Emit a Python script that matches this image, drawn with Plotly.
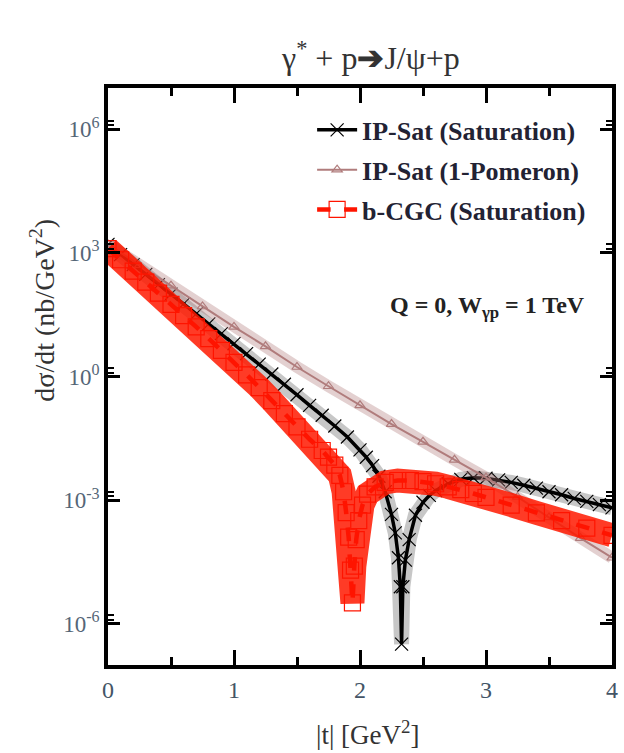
import plotly.graph_objects as go

# |t| [GeV^2] and dsigma/dt [nb/GeV^2]
t_sat = [0, 0.1, 0.2, 0.3, 0.4, 0.5, 0.6, 0.7, 0.8, 0.9, 1.0, 1.1, 1.2, 1.3, 1.4,
         1.5, 1.6, 1.7, 1.8, 1.9, 2.0, 2.05, 2.1, 2.15, 2.2, 2.25, 2.28, 2.305,
         2.32, 2.33, 2.34, 2.36, 2.39, 2.44, 2.5, 2.55, 2.6, 2.7, 2.8, 2.9, 3.0,
         3.1, 3.2, 3.3, 3.4, 3.5, 3.6, 3.7, 3.8, 3.9, 4.0]
ipsat_sat = [1.6e3, 9.1e2, 5.2e2, 3.0e2, 1.7e2, 1.0e2, 58, 33, 19, 11, 6.3, 3.6,
             2.0, 1.15, 0.65, 0.36, 0.20, 0.115, 0.063, 0.034, 0.0166, 0.011,
             6.9e-3, 3.8e-3, 1.6e-3, 4.5e-4, 1.6e-4, 4.0e-5, 7.9e-6, 3.2e-7,
             7.9e-6, 3.5e-5, 1.1e-4, 4.3e-4, 8.9e-4, 1.3e-3, 1.7e-3, 2.5e-3,
             3.2e-3, 3.5e-3, 3.4e-3, 3.1e-3, 2.7e-3, 2.3e-3, 1.95e-3, 1.6e-3,
             1.35e-3, 1.1e-3, 9.3e-4, 7.8e-4, 6.5e-4]

t_pom = [0, 0.25, 0.5, 0.75, 1.0, 1.25, 1.5, 1.75, 2.0, 2.25, 2.5, 2.75, 3.0,
         3.25, 3.5, 3.75, 4.0]
ipsat_pom = [1.6e3, 5.0e2, 1.6e2, 50, 16, 5.4, 1.7, 0.58, 0.2, 0.07, 0.026,
             9.5e-3, 3.5e-3, 1.2e-3, 3.8e-4, 1.2e-4, 4.0e-5]

t_cgc = [0, 0.1, 0.2, 0.3, 0.4, 0.5, 0.6, 0.7, 0.8, 0.9, 1.0, 1.1, 1.2, 1.3, 1.4,
         1.5, 1.6, 1.7, 1.75, 1.8, 1.84, 1.87, 1.89, 1.91, 1.925, 1.94, 1.955,
         1.97, 1.99, 2.02, 2.06, 2.12, 2.2, 2.3, 2.4, 2.5, 2.6, 2.7, 2.8, 2.9,
         3.0, 3.2, 3.4, 3.6, 3.8, 4.0]
bcgc_sat = [1.26e3, 6.8e2, 3.6e2, 1.95e2, 1.05e2, 56, 30, 16, 8.3, 4.3, 2.2, 1.1,
            0.54, 0.26, 0.126, 0.060, 0.030, 0.016, 0.011, 7.1e-3, 4.0e-3,
            1.6e-3, 5.0e-4, 1.26e-4, 2.0e-5, 3.2e-6, 2.5e-5, 1.1e-4, 3.2e-4,
            7.6e-4, 1.4e-3, 2.1e-3, 2.7e-3, 3.0e-3, 3.0e-3, 2.8e-3, 2.5e-3,
            2.1e-3, 1.8e-3, 1.45e-3, 1.17e-3, 7.6e-4, 4.9e-4, 3.2e-4, 2.1e-4,
            1.4e-4]

y_tickvals = [1e-6, 1e-3, 1, 1e3, 1e6]
y_ticktext = ["10<sup>-6</sup>", "10<sup>-3</sup>", "10<sup>0</sup>",
              "10<sup>3</sup>", "10<sup>6</sup>"]
y_minor = [1.25e-6, 1.6e-6, 1.25e-3, 1.6e-3, 1.25, 1.6, 1.25e3, 1.6e3, 1.25e6, 1.6e6]
x_tickvals = [0, 1, 2, 3, 4]
x_minor = [0.5, 1.5, 2.5, 3.5]

SERIF = "Liberation Serif"

fig = go.Figure()

# IP-Sat (Saturation)
fig.add_trace(go.Scatter(x=t_sat, y=ipsat_sat, mode="lines", showlegend=False,
                         line=dict(color="rgba(0,0,0,0.22)", width=15), hoverinfo="skip"))
fig.add_trace(go.Scatter(x=t_sat, y=ipsat_sat, mode="lines+markers",
                         name="<b>IP-Sat (Saturation)</b>", legendgroup="a",
                         line=dict(color="black", width=3.5),
                         marker=dict(symbol="x-thin-open", size=13,
                                     line=dict(color="rgba(0,0,0,0.6)", width=1.2))))
# IP-Sat (1-Pomeron)
fig.add_trace(go.Scatter(x=t_pom, y=ipsat_pom, mode="lines", showlegend=False,
                         line=dict(color="rgba(176,120,120,0.35)", width=12), hoverinfo="skip"))
fig.add_trace(go.Scatter(x=t_pom, y=ipsat_pom, mode="lines+markers",
                         name="<b>IP-Sat (1-Pomeron)</b>", legendgroup="b",
                         line=dict(color="#b07c7c", width=2),
                         marker=dict(symbol="triangle-up-open", size=9,
                                     line=dict(color="#c09090", width=1.2))))
# b-CGC (Saturation)
fig.add_trace(go.Scatter(x=t_cgc, y=bcgc_sat, mode="lines", showlegend=False,
                         line=dict(color="rgba(255,25,0,0.85)", width=24), hoverinfo="skip"))
fig.add_trace(go.Scatter(x=t_cgc, y=bcgc_sat, mode="lines+markers",
                         name="<b>b-CGC (Saturation)</b>", legendgroup="c",
                         line=dict(color="#ff1400", width=4.5, dash="dash"),
                         marker=dict(symbol="square-open", size=16,
                                     line=dict(color="#ff3020", width=1.2))))

fig.update_layout(
    width=624, height=753,
    margin=dict(l=108, r=6, t=88, b=88),
    paper_bgcolor="white", plot_bgcolor="white",
    font=dict(family=SERIF, color="#333344", size=22),
    showlegend=True,
    legend=dict(x=0.405, y=0.968, xanchor="left", yanchor="top",
                bgcolor="rgba(0,0,0,0)", tracegroupgap=3,
                font=dict(family=SERIF, size=26, color="#222233"),
                itemwidth=40),
    xaxis=dict(range=[0, 4], tickvals=x_tickvals, ticks="inside", ticklen=15,
               tickwidth=2.5, tickcolor="black", showline=True, linewidth=3.5,
               linecolor="black", mirror="allticks", showgrid=False, zeroline=False,
               tickfont=dict(size=24, color="#445566"),
               minor=dict(tickvals=x_minor, ticks="inside", ticklen=8,
                          tickwidth=2.5, tickcolor="black")),
    yaxis=dict(type="log", range=[-7, 7], tickvals=y_tickvals, ticktext=y_ticktext,
               ticks="inside", ticklen=12, tickwidth=2.5, tickcolor="black",
               showline=True, linewidth=3.5, linecolor="black", mirror="allticks",
               showgrid=False, zeroline=False,
               tickfont=dict(size=23, color="#556677"),
               minor=dict(tickvals=y_minor, ticks="inside", ticklen=6,
                          tickwidth=2, tickcolor="black")),
    annotations=[
        dict(text="γ<sup>*</sup> + p<b>➔</b>J/ψ+p", xref="paper", yref="paper",
             x=0.52, y=1.055, xanchor="center", yanchor="middle", showarrow=False,
             font=dict(size=32, family=SERIF, color="#333333")),
        dict(text="dσ/dt (nb/GeV<sup>2</sup>)", xref="paper", yref="paper",
             x=-0.13, y=0.615, xanchor="center", yanchor="middle", textangle=-90,
             showarrow=False, font=dict(size=28, family=SERIF, color="#333333")),
        dict(text="|t| [GeV<sup>2</sup>]", xref="paper", yref="paper",
             x=0.515, y=-0.117, xanchor="center", yanchor="middle", showarrow=False,
             font=dict(size=27, family=SERIF, color="#333333")),
        dict(text="<b>Q = 0, W<sub>γp</sub> = 1 TeV</b>", xref="paper", yref="paper",
             x=0.95, y=0.62, xanchor="right", yanchor="middle", showarrow=False,
             font=dict(size=24, family=SERIF, color="#222222")),
    ],
)

fig.write_html("out.html")
